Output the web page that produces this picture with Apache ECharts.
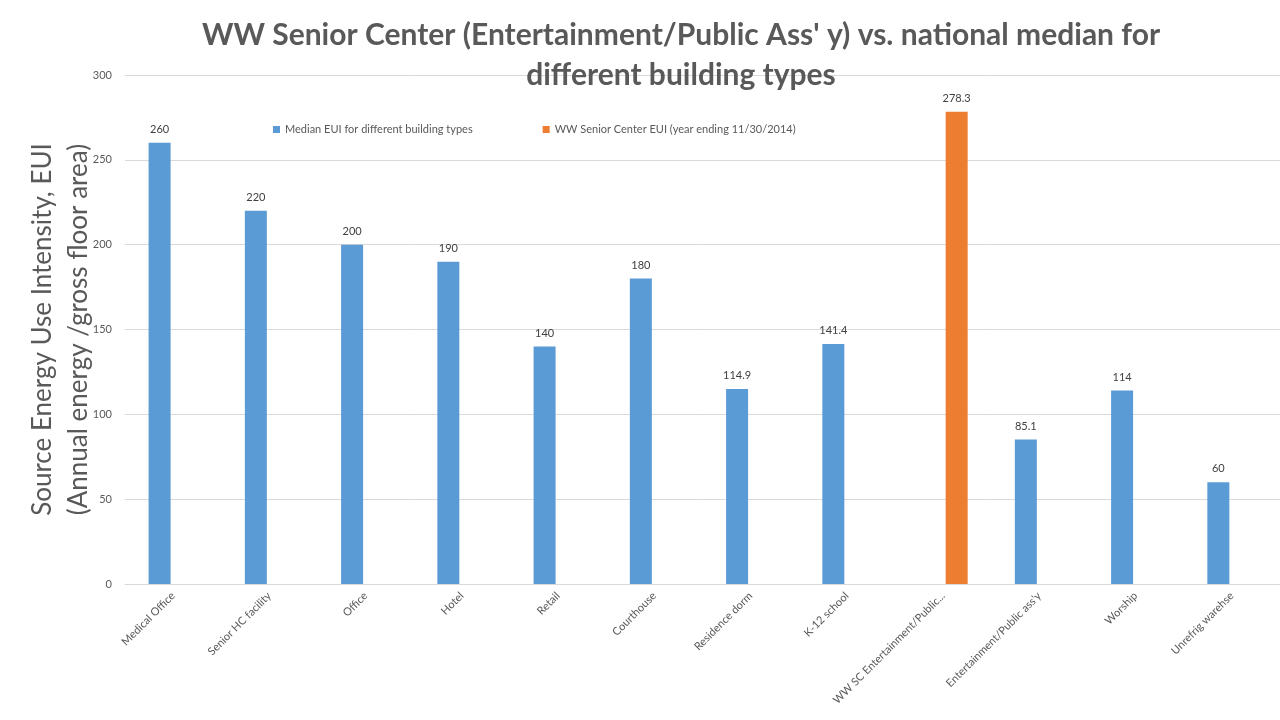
<!DOCTYPE html>
<html>
<head>
<meta charset="utf-8">
<script src="https://cdn.jsdelivr.net/npm/echarts@6/dist/echarts.min.js"></script>
<style>
  html, body { margin: 0; padding: 0; background: #fff; }
  #main { width: 1280px; height: 720px; }
</style>
</head>
<body>
<div id="main"></div>
<script>
// categories and values
var categories = ['Medical Office', 'Senior HC facility', 'Office', 'Hotel', 'Retail', 'Courthouse',
  'Residence dorm', 'K-12 school', 'WW SC Entertainment/Public...', "Entertainment/Public ass'y",
  'Worship', 'Unrefrig warehse'];
var medianEui = [260, 220, 200, 190, 140, 180, 114.9, 141.4, null, 85.1, 114, 60];
var seniorCenterEui = [null, null, null, null, null, null, null, null, 278.3, null, null, null];
var yTicks = [0, 50, 100, 150, 200, 250, 300];

var font = 'Lato, "Open Sans", sans-serif';

var myChart = echarts.init(document.getElementById('main'));
var option = {
  backgroundColor: '#fff',
  textStyle: { fontFamily: font },
  title: {
    text: "WW Senior Center (Entertainment/Public Ass' y) vs. national median for\ndifferent building types",
    left: 676,
    textAlign: 'center',
    top: 10,
    textStyle: { fontSize: 30, fontWeight: 'bold', color: '#595959', lineHeight: 40, fontFamily: font }
  },
  legend: {
    left: 268,
    top: 119,
    itemWidth: 7,
    itemHeight: 7,
    itemGap: 70,
    icon: 'rect',
    textStyle: { fontSize: 11, color: '#595959' },
    data: ['Median EUI for different building types', 'WW Senior Center EUI (year ending 11/30/2014)']
  },
  grid: { left: 125, right: 0, top: 75, bottom: 136 },
  xAxis: {
    type: 'category',
    data: categories,
    axisLine: { lineStyle: { color: '#d9d9d9' } },
    axisTick: { show: false },
    axisLabel: { rotate: 45, fontSize: 11, color: '#595959', interval: 0, margin: 10 }
  },
  yAxis: {
    type: 'value',
    min: yTicks[0],
    max: yTicks[yTicks.length - 1],
    interval: 50,
    name: 'Source Energy Use Intensity, EUI\n(Annual energy /gross floor area)',
    nameLocation: 'middle',
    nameRotate: 90,
    nameGap: 28,
    nameMoveOverlap: false,
    nameTextStyle: { fontSize: 26, color: '#595959', lineHeight: 36 },
    axisLine: { show: false },
    axisTick: { show: false },
    axisLabel: { fontSize: 11, color: '#595959', margin: 13 },
    splitLine: { lineStyle: { color: '#d9d9d9' } }
  },
  series: [
    {
      name: 'Median EUI for different building types',
      type: 'bar',
      data: medianEui,
      barWidth: 22,
      barGap: '23%',
      itemStyle: { color: '#5b9bd5' },
      label: { show: true, position: 'top', fontSize: 11, color: '#404040', distance: 8 }
    },
    {
      name: 'WW Senior Center EUI (year ending 11/30/2014)',
      type: 'bar',
      data: seniorCenterEui,
      barWidth: 22,
      itemStyle: { color: '#ed7d31' },
      label: { show: true, position: 'top', fontSize: 11, color: '#404040', distance: 8 }
    }
  ]
};
myChart.setOption(option);
</script>
</body>
</html>
